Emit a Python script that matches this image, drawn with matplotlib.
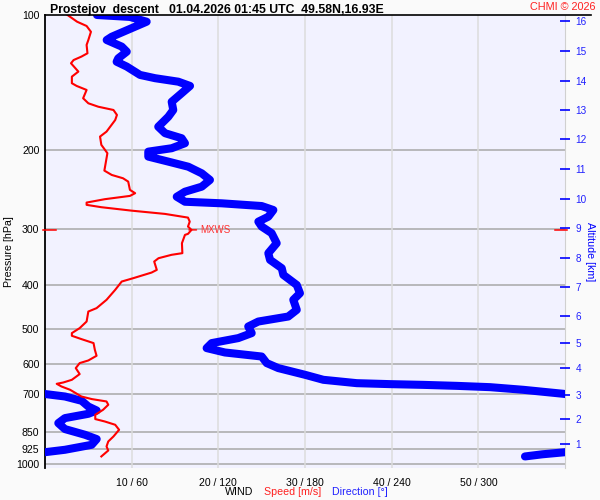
import matplotlib
matplotlib.use("Agg")
import matplotlib.pyplot as plt
from matplotlib.ticker import NullLocator, FixedLocator
import matplotlib.transforms as mtransforms
from matplotlib.lines import Line2D
import numpy as np

plt.rcParams['font.family'] = ['Liberation Sans', 'DejaVu Sans']

#%% Data
# wind speed profile (descent), pressure [hPa] vs speed [m/s]
spd_pres = [100.0, 103.5, 105.8, 109.0, 113.7, 116.6, 121.7, 123.8, 126.0, 128.1,
            133.7, 137.2, 141.9, 143.9, 146.9, 153.3, 157.3, 160.1, 162.8, 167.0,
            171.4, 181.9, 186.6, 194.7, 203.2, 213.9, 222.2, 227.2, 231.1, 235.1,
            245.3, 249.5, 253.0, 257.3, 261.8, 264.9, 268.1, 272.9, 277.5, 282.8,
            288.7, 296.1, 301.2, 307.4, 309.0, 322.5, 339.4, 342.3, 348.3, 354.3,
            369.8, 374.9, 385.8, 392.6, 409.7, 431.2, 450.0, 457.9, 482.0, 498.6,
            511.5, 518.6, 527.5, 538.4, 557.2, 574.6, 588.6, 596.6, 612.1, 631.2,
            650.0, 659.1, 663.5, 672.7, 684.2, 708.1, 717.6, 726.4, 738.9, 758.1,
            777.9, 795.1, 805.0, 818.7, 840.0, 869.3, 891.9, 915.1, 934.2, 963.2]
speed = [2.6, 3.7, 4.8, 5.3, 5.0, 4.8, 4.9, 4.2, 3.3, 3.0,
         3.85, 3.1, 3.1, 3.65, 4.8, 4.4, 5.0, 6.15, 7.9, 8.3,
         8.1, 7.1, 6.35, 6.5, 7.2, 7.0, 6.85, 7.7, 9.0, 9.6,
         9.8, 10.4, 9.8, 6.9, 4.8, 4.8, 6.5, 10.0, 13.85, 16.5,
         16.7, 16.5, 16.9, 16.5, 16.15, 15.8, 15.85, 14.6, 13.1, 12.6,
         12.9, 12.3, 10.2, 8.85, 8.1, 7.1, 5.95, 5.0, 4.8, 4.0,
         3.1, 3.1, 4.2, 5.6, 5.75, 5.95, 5.0, 4.0, 3.55, 4.0,
         3.1, 2.1, 1.35, 1.9, 2.9, 4.2, 5.4, 7.1, 7.3, 6.7,
         5.8, 5.8, 6.9, 8.1, 8.55, 7.9, 7.3, 7.1, 7.3, 6.5]

# wind direction profile, pressure [hPa] vs direction [deg]
dir_pres = [100.0, 101.0, 103.5, 111.8, 113.7, 117.6, 120.7, 124.9, 127.1, 130.3,
            136.0, 138.3, 140.8, 143.9, 149.4, 156.1, 162.8, 168.5, 171.4, 177.4,
            183.4, 188.2, 193.1, 198.1, 201.6, 206.8, 212.2, 217.8, 225.3, 233.1,
            241.3, 247.6, 254.1, 260.7, 262.8, 266.5, 272.0, 281.5, 288.7, 296.1,
            306.3, 322.5, 339.4, 351.3, 366.6, 379.4, 399.6, 416.9, 431.2, 454.0,
            469.8, 482.0, 494.5, 511.5, 524.8, 538.4, 552.4, 565.0, 576.8, 596.6,
            612.1, 633.5, 650.0, 661.3, 664.6, 667.1, 670.5, 675.0, 684.2, 698.4,
            708.1, 724.0, 745.5, 760.9, 773.9, 791.2, 811.8, 837.0, 861.8, 881.1,
            907.3, 930.8, 942.8, 952.5, 963.2]
direction = [36.0, 58.8, 70.4, 46.2, 42.7, 53.1, 56.6, 50.7, 49.6, 56.6,
             65.8, 76.2, 92.3, 100.4, 94.6, 87.7, 88.8, 85.4, 83.1, 78.4,
             83.1, 94.6, 96.9, 87.7, 71.5, 71.5, 85.4, 99.2, 108.5, 114.2,
             108.5, 96.9, 91.2, 96.9, 122.3, 150.0, 158.1, 154.6, 147.7, 150.0,
             156.9, 160.4, 154.6, 155.8, 163.9, 165.0, 174.3, 176.5, 171.9, 174.3,
             168.4, 147.7, 140.7, 143.1, 133.8, 115.4, 111.9, 124.6, 150.0, 153.5,
             161.5, 180.0, 192.7, 215.8, 238.8, 261.9, 285.0, 308.1, 331.1, 358.8,
             13.8, 25.4, 30.0, 35.8, 30.0, 13.8, 9.2, 13.8, 27.7, 35.8,
             32.3, 13.8, 359.5, 344.5, 332.3]

# altitude scale on the right: km and the pressure where each km sits
alt_km = list(range(1, 17))
alt_pres = [902.6, 793.5, 702.0, 611.3, 537.7, 468.1, 403.5, 347.7,
            298.1, 256.9, 220.3, 188.9, 162.8, 140.3, 120.3, 103.1]

p_ticks = [100, 200, 300, 400, 500, 600, 700, 850, 925, 1000]
x_ticks = [10, 20, 30, 40, 50]
x_labels = ['%d / %d' % (v, v * 6) for v in x_ticks]

#%% Figure
fig = plt.figure(figsize=(6, 5), dpi=100, facecolor='#fafafa')
ax = fig.add_axes([45 / 600, 1 - 468 / 500, 520 / 600, 453 / 500])
ax.set_facecolor('#f2f2ff')
ax.set_yscale('log')
ax.set_ylim(1022, 100)
ax.set_xlim(0, 60)

ax.yaxis.set_major_locator(FixedLocator(p_ticks))
ax.yaxis.set_minor_locator(NullLocator())
ax.set_yticklabels([str(p) for p in p_ticks])
ax.set_xticks(x_ticks)
ax.set_xticklabels(x_labels)
ax.tick_params(axis='both', length=0, labelsize=7.6, colors='black', pad=4)
ax.tick_params(axis='x', pad=7)

for p in p_ticks[1:]:
    ax.axhline(p, color='#a8a8a8', lw=1.1, zorder=1)
for v in x_ticks:
    ax.axvline(v, color='#dcdcdc', lw=1.1, zorder=1)

ax.spines['top'].set_visible(False)
ax.spines['bottom'].set_visible(False)
ax.spines['right'].set_color('#d0d0d0')
ax.spines['left'].set_linewidth(1.3)

# speed
ax.plot(speed, spd_pres, color='red', lw=1.5, zorder=4)

# direction, 1 m/s on the axis = 6 deg; wrap at 0/360
dir_unw = np.unwrap(np.array(direction), period=360)
for off in (-360, 0, 360):
    ax.plot((dir_unw + off) / 6.0, dir_pres, color='blue', lw=5.8, zorder=3,
            solid_capstyle='round', solid_joinstyle='round')

ax.set_ylabel('Pressure [hPa]', fontsize=7.7, va='center')
ax.yaxis.set_label_coords(-0.069, 0.477)

# altitude axis
ax2 = ax.twinx()
ax2.set_yscale('log')
ax2.set_ylim(ax.get_ylim())
ax2.yaxis.set_major_locator(FixedLocator(alt_pres))
ax2.yaxis.set_minor_locator(NullLocator())
ax2.set_yticklabels([str(k) for k in alt_km])
ax2.tick_params(axis='y', colors='blue', labelcolor='#2020ff', direction='inout',
                length=7, width=1.2, labelsize=7.2, pad=4)
for s in ax2.spines.values():
    s.set_visible(False)
ax2.set_ylabel('Altitude [km]', color='blue', fontsize=7.7, rotation=-90,
               va='center')
ax2.yaxis.set_label_coords(1.048, 0.477)

# max wind speed marker
imax = int(np.argmax(speed))
smax, pmax = speed[imax], spd_pres[imax]
trans = mtransforms.blended_transform_factory(ax.transAxes, ax.transData)
ax.plot([-0.004, 0.021], [pmax, pmax], color='red', lw=1.1, transform=trans,
        clip_on=False, zorder=5)
ax.plot([0.981, 1.004], [pmax, pmax], color='red', lw=1.1, transform=trans,
        clip_on=False, zorder=5)
ax.annotate('MXWS', xy=(smax - 0.3, pmax), xytext=(8.5, 0),
            textcoords='offset points', ha='left', va='center', color='#ff3030',
            fontsize=7, arrowprops=dict(arrowstyle='-', color='red', lw=1,
                                        shrinkA=1, shrinkB=0))

# header
fig.add_artist(Line2D([45 / 600, 591 / 600], [1 - 15 / 500, 1 - 15 / 500],
                      color='black', lw=1.2))
fig.text(50 / 600, 1 - 13 / 500,
         'Prostejov  descent   01.04.2026 01:45 UTC  49.58N,16.93E',
         fontsize=8.8, fontweight='bold', ha='left', va='baseline')
fig.text(596 / 600, 1 - 7 / 500, 'CHMI \u00a9 2026', color='#ff2020',
         fontsize=7.8, ha='right', va='center')

# bottom legend text
fig.text(225 / 600, 1 - 492 / 500, 'WIND', fontsize=7.7, ha='left', va='center')
fig.text(264 / 600, 1 - 492 / 500, 'Speed [m/s]', color='#ff2020', fontsize=7.7,
         ha='left', va='center')
fig.text(332 / 600, 1 - 492 / 500, 'Direction [\u00b0]', color='#2020ff',
         fontsize=7.7, ha='left', va='center')

fig.savefig('out.png', dpi=100, facecolor=fig.get_facecolor())
